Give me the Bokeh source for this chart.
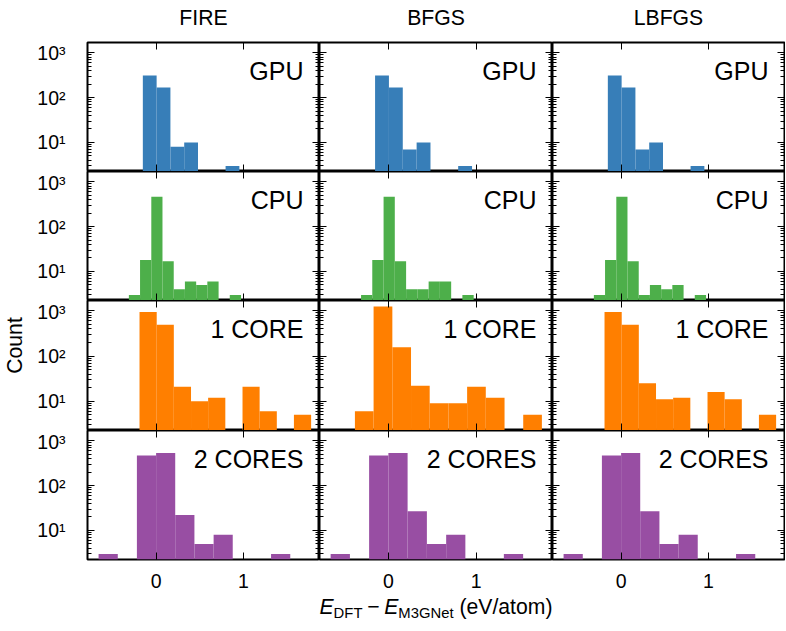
from bokeh.plotting import figure
from bokeh.layouts import gridplot, column, row as brow
from bokeh.models import FixedTicker, LinearAxis, LogAxis, Label, Range1d
from bokeh.embed import file_html
from bokeh.resources import INLINE

# ---------------- data ----------------
optimizers = ["FIRE", "BFGS", "LBFGS"]
devices = ["GPU", "CPU", "1 CORE", "2 CORES"]
device_colors = ["#377eb8", "#4daf4a", "#ff7f00", "#984ea3"]

x_limits = [-0.787, 1.871]
y_limits = [2.25, 1700]
x_ticks = [0, 1]
x_tick_labels = ["0", "1"]
y_ticks = [10, 100, 1000]
y_tick_labels = ["10\u00b9", "10\u00b2", "10\u00b3"]
y_minor_ticks = [3, 4, 5, 6, 7, 8, 9, 20, 30, 40, 50, 60, 70, 80, 90,
                 200, 300, 400, 500, 600, 700, 800, 900]

gpu_edges = [-0.153, 0.005, 0.163, 0.321, 0.479, 0.637, 0.795, 0.953]
gpu_fire = [312, 169, 8, 10, 0, 0, 3]
gpu_bfgs = [312, 169, 7, 10, 0, 0, 3]
gpu_lbfgs = [312, 169, 7, 10, 0, 0, 3]

cpu_edges = [-0.313, -0.185, -0.056, 0.072, 0.201, 0.329, 0.458, 0.586, 0.715, 0.843, 0.972]
cpu_fire = [3, 18, 467, 17, 4, 6, 5, 6, 0, 3]
cpu_bfgs = [3, 18, 467, 17, 4, 4, 6, 6, 0, 3]
cpu_lbfgs = [3, 18, 467, 17, 3, 5, 4, 5, 0, 3]

core1_edges = [-0.191, 0.006, 0.202, 0.399, 0.595, 0.792, 0.989, 1.185, 1.382, 1.578, 1.775]
core1_bfgs_edges = [-0.383, -0.170, 0.044, 0.257, 0.470, 0.684, 0.897, 1.110, 1.324, 1.537, 1.750]
core1_fire = [950, 495, 21, 10, 12, 0, 21, 6, 0, 5]
core1_bfgs = [6, 1250, 157, 22, 9, 9, 21, 12, 0, 5]
core1_lbfgs = [950, 495, 25, 11, 12, 0, 16, 11, 0, 5]

core2_edges = [-0.660, -0.440, -0.221, -0.001, 0.218, 0.438, 0.658, 0.877, 1.097, 1.316, 1.536]
core2_fire = [3, 0, 468, 537, 22, 5, 8, 0, 0, 3]
core2_bfgs = [3, 0, 468, 537, 27, 5, 8, 0, 0, 3]
core2_lbfgs = [3, 0, 468, 537, 27, 5, 8, 0, 0, 3]

panels = [
    [(gpu_edges, gpu_fire), (gpu_edges, gpu_bfgs), (gpu_edges, gpu_lbfgs)],
    [(cpu_edges, cpu_fire), (cpu_edges, cpu_bfgs), (cpu_edges, cpu_lbfgs)],
    [(core1_edges, core1_fire), (core1_bfgs_edges, core1_bfgs), (core1_edges, core1_lbfgs)],
    [(core2_edges, core2_fire), (core2_edges, core2_bfgs), (core2_edges, core2_lbfgs)],
]

# ---------------- layout / style ----------------
FONT = "Liberation Sans"
FRAME_WS = [232, 233, 232]
FRAME_HS = [129, 129, 130, 129]
COUNT_W = 30
HEAD_H = 40
LEFT_B, RIGHT_B, TOP_B, BOTTOM_B = 57, 1, 2, 32
XLABEL_H = 39
TICK_FS = "19.5px"
TITLE_F = 21.2
AX_F = 21.2
PANEL_F = 25.0
BASE_CORR = 0.4   # Label 'alphabetic' placement correction (fraction of font size)


def style_axis(ax, labels, minor, standoff=0):
    ax.axis_line_color = None
    ax.major_tick_in = 7
    ax.major_tick_out = 0
    ax.minor_tick_in = 4 if minor else 0
    ax.minor_tick_out = 0
    ax.major_tick_line_color = "black"
    ax.major_tick_line_width = 1
    ax.minor_tick_line_color = "black" if minor else None
    ax.minor_tick_line_width = 1
    ax.major_label_standoff = standoff
    if labels:
        ax.major_label_text_font = FONT
        ax.major_label_text_font_size = TICK_FS
        ax.major_label_text_color = "black"
    else:
        ax.major_label_text_color = None


def blank_figure(w, h):
    f = figure(width=w, height=h, output_backend="svg", toolbar_location=None,
               min_border=0, title=None, x_range=Range1d(0, 1), y_range=Range1d(0, 1))
    f.axis.visible = False
    f.grid.visible = False
    f.outline_line_color = None
    f.background_fill_color = "white"
    f.border_fill_color = "white"
    return f


def txt(fig, x, y, text, size, align="left", style="normal", angle=0.0):
    fig.add_layout(Label(x=x, y=y, x_units="screen", y_units="screen", text=text,
                         text_align=align, text_baseline="alphabetic", angle=angle,
                         text_font=FONT, text_font_size=f"{size}px",
                         text_font_style=style, text_color="black"))


rows = []
for r in range(4):
    row = []
    for c in range(3):
        edges, counts = panels[r][c]
        fw, fh = FRAME_WS[c], FRAME_HS[r]
        p = figure(frame_width=fw, frame_height=fh,
                   x_range=Range1d(*x_limits), y_range=Range1d(*y_limits),
                   y_axis_type="log", output_backend="svg", toolbar_location=None,
                   title=None,
                   min_border_left=LEFT_B if c == 0 else 0,
                   min_border_right=RIGHT_B if c == 2 else 0,
                   min_border_top=TOP_B if r == 0 else 0,
                   min_border_bottom=BOTTOM_B if r == 3 else 0)
        p.grid.visible = False
        p.outline_line_color = "black"
        p.outline_line_width = 2
        p.background_fill_color = "white"
        p.border_fill_color = "white"

        lefts = [edges[i] for i in range(len(counts)) if counts[i] > 0]
        rights = [edges[i + 1] for i in range(len(counts)) if counts[i] > 0]
        tops = [counts[i] for i in range(len(counts)) if counts[i] > 0]
        p.quad(left=lefts, right=rights, bottom=y_limits[0], top=tops,
               fill_color=device_colors[r], line_color=None)

        p.xaxis.ticker = FixedTicker(ticks=x_ticks)
        p.yaxis.ticker = FixedTicker(ticks=y_ticks, minor_ticks=y_minor_ticks)
        style_axis(p.xaxis[0], r == 3, False, standoff=14 if r == 3 else 0)
        style_axis(p.yaxis[0], c == 0, True, standoff=22 if c == 0 else 0)
        if r == 3:
            p.xaxis.major_label_overrides = dict(zip(x_ticks, x_tick_labels))
        if c == 0:
            p.yaxis.major_label_overrides = dict(zip(y_ticks, y_tick_labels))

        top_ax = LinearAxis(ticker=FixedTicker(ticks=x_ticks))
        style_axis(top_ax, False, False)
        p.add_layout(top_ax, "above")
        right_ax = LogAxis(ticker=FixedTicker(ticks=y_ticks, minor_ticks=y_minor_ticks))
        style_axis(right_ax, False, True)
        p.add_layout(right_ax, "right")

        # device label, baseline ~38.5 px below the frame top
        txt(p, fw - 16, fh - 38.5 + BASE_CORR * PANEL_F, devices[r], PANEL_F, align="right")
        row.append(p)
    rows.append(row)

grid = gridplot(rows, toolbar_location=None)
grid_w = LEFT_B + sum(FRAME_WS) + RIGHT_B

# header with optimizer names
hf = blank_figure(grid_w, HEAD_H)
x0 = LEFT_B
for c in range(3):
    txt(hf, x0 + FRAME_WS[c] / 2, HEAD_H - 25 + BASE_CORR * TITLE_F, optimizers[c], TITLE_F,
        align="center")
    x0 += FRAME_WS[c]

# x label (italic E with subscripts, composed from pieces)
xf = blank_figure(grid_w, XLABEL_H)
ADV = {" ": 278, "(": 333, ")": 333, "e": 556, "V": 667, "/": 278, "a": 556, "t": 278,
       "o": 556, "m": 833, "D": 722, "F": 611, "T": 611, "M": 833, "3": 556, "G": 778,
       "N": 722, "E": 667, "\u2212": 584}
FS = AX_F * 0.7
GAP = AX_F * 0.22
SUB = AX_F * 0.22
SPACE = AX_F * 0.278


def tw(s, size):
    return sum(ADV[ch] for ch in s) * size / 1000.0


pieces = [
    ("E", AX_F, "italic", 0, 0, 0),
    ("DFT", FS, "normal", -SUB, 0, 0),
    ("\u2212", AX_F, "normal", 0, GAP, GAP),
    ("E", AX_F, "italic", 0, 0, 0),
    ("M3GNet", FS, "normal", -SUB, 0, 0),
    ("(eV/atom)", AX_F, "normal", 0, SPACE, 0),
]
total = sum(tw(t, s) + a + b for t, s, _, _, a, b in pieces)
cx = LEFT_B + FRAME_WS[0] + FRAME_WS[1] / 2
xpos = cx - total / 2
base_y = XLABEL_H - 23   # baseline ~23 px below the top of this strip
for t, s, style, dy, pre, post in pieces:
    xpos += pre
    txt(xf, xpos, base_y + dy + BASE_CORR * s, t, s, style=style)
    xpos += tw(t, s) + post

# shared y label
total_h = HEAD_H + TOP_B + sum(FRAME_HS) + BOTTOM_B + XLABEL_H
cf = blank_figure(COUNT_W, total_h)
txt(cf, 22 - BASE_CORR * AX_F, total_h - 345, "Count", AX_F, align="center", angle=1.5707963)

layout = brow(cf, column(hf, grid, xf))

with open("out.html", "w") as fh_out:
    fh_out.write(file_html(layout, INLINE))
